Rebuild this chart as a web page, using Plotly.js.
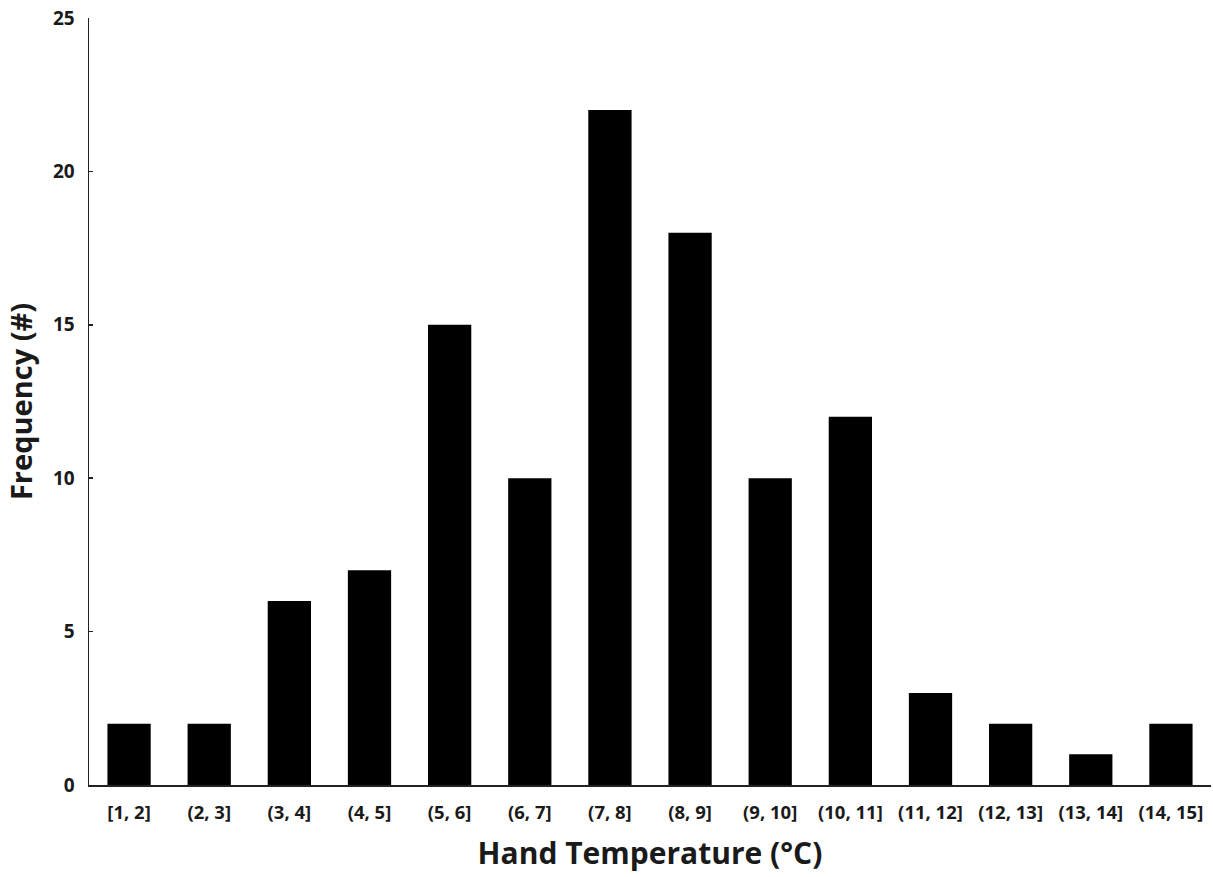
<!DOCTYPE html>
<html>
<head>
<meta charset="utf-8">
<script src="https://cdn.plot.ly/plotly-3.0.1.min.js"></script>
<style>html,body{margin:0;padding:0;background:#fff;}#chart{width:1213px;height:877px;}</style>
</head>
<body>
<div id="chart"></div>
<script>
const categories = ["[1, 2]","(2, 3]","(3, 4]","(4, 5]","(5, 6]","(6, 7]","(7, 8]","(8, 9]","(9, 10]","(10, 11]","(11, 12]","(12, 13]","(13, 14]","(14, 15]"];
const frequency = [2, 2, 6, 7, 15, 10, 22, 18, 10, 12, 3, 2, 1, 2];
const yTicks = [0, 5, 10, 15, 20, 25];

const fontFam = "'Open Sans', 'DejaVu Sans', sans-serif";
const trace = {
  type: 'bar',
  x: categories,
  y: frequency,
  width: 0.54,
  marker: {color: '#000000', line: {width: 0}},
  hoverinfo: 'x+y'
};
const layout = {
  width: 1213, height: 877,
  margin: {l: 89, r: 2, t: 18, b: 92},
  paper_bgcolor: '#fff', plot_bgcolor: '#fff',
  showlegend: false,
  font: {family: fontFam, color: '#000'},
  xaxis: {
    type: 'category',
    range: [-0.5, 13.5],
    showline: true, linecolor: '#222', linewidth: 1.5,
    ticks: '', showgrid: false, zeroline: false,
    ticklabelstandoff: 10,
    tickfont: {family: fontFam, size: 18.5, color: '#1a1a1a', weight: 'bold'},
    title: {text: 'Hand Temperature (°C)', font: {family: fontFam, size: 30, color: '#1a1a1a', weight: 'bold'}, standoff: 20}
  },
  yaxis: {
    range: [0, 25],
    tickvals: yTicks,
    showline: true, linecolor: '#222', linewidth: 1.5,
    ticks: 'inside', ticklen: 4, tickcolor: '#222', tickwidth: 1.5,
    showgrid: false, zeroline: false,
    ticklabelstandoff: 9,
    tickfont: {family: fontFam, size: 19, color: '#1a1a1a', weight: 'bold'},
    title: {text: 'Frequency (#)', font: {family: fontFam, size: 29, color: '#1a1a1a', weight: 'bold'}, standoff: 12}
  }
};
Plotly.newPlot('chart', [trace], layout, {displayModeBar: false, staticPlot: true});
</script>
</body>
</html>
